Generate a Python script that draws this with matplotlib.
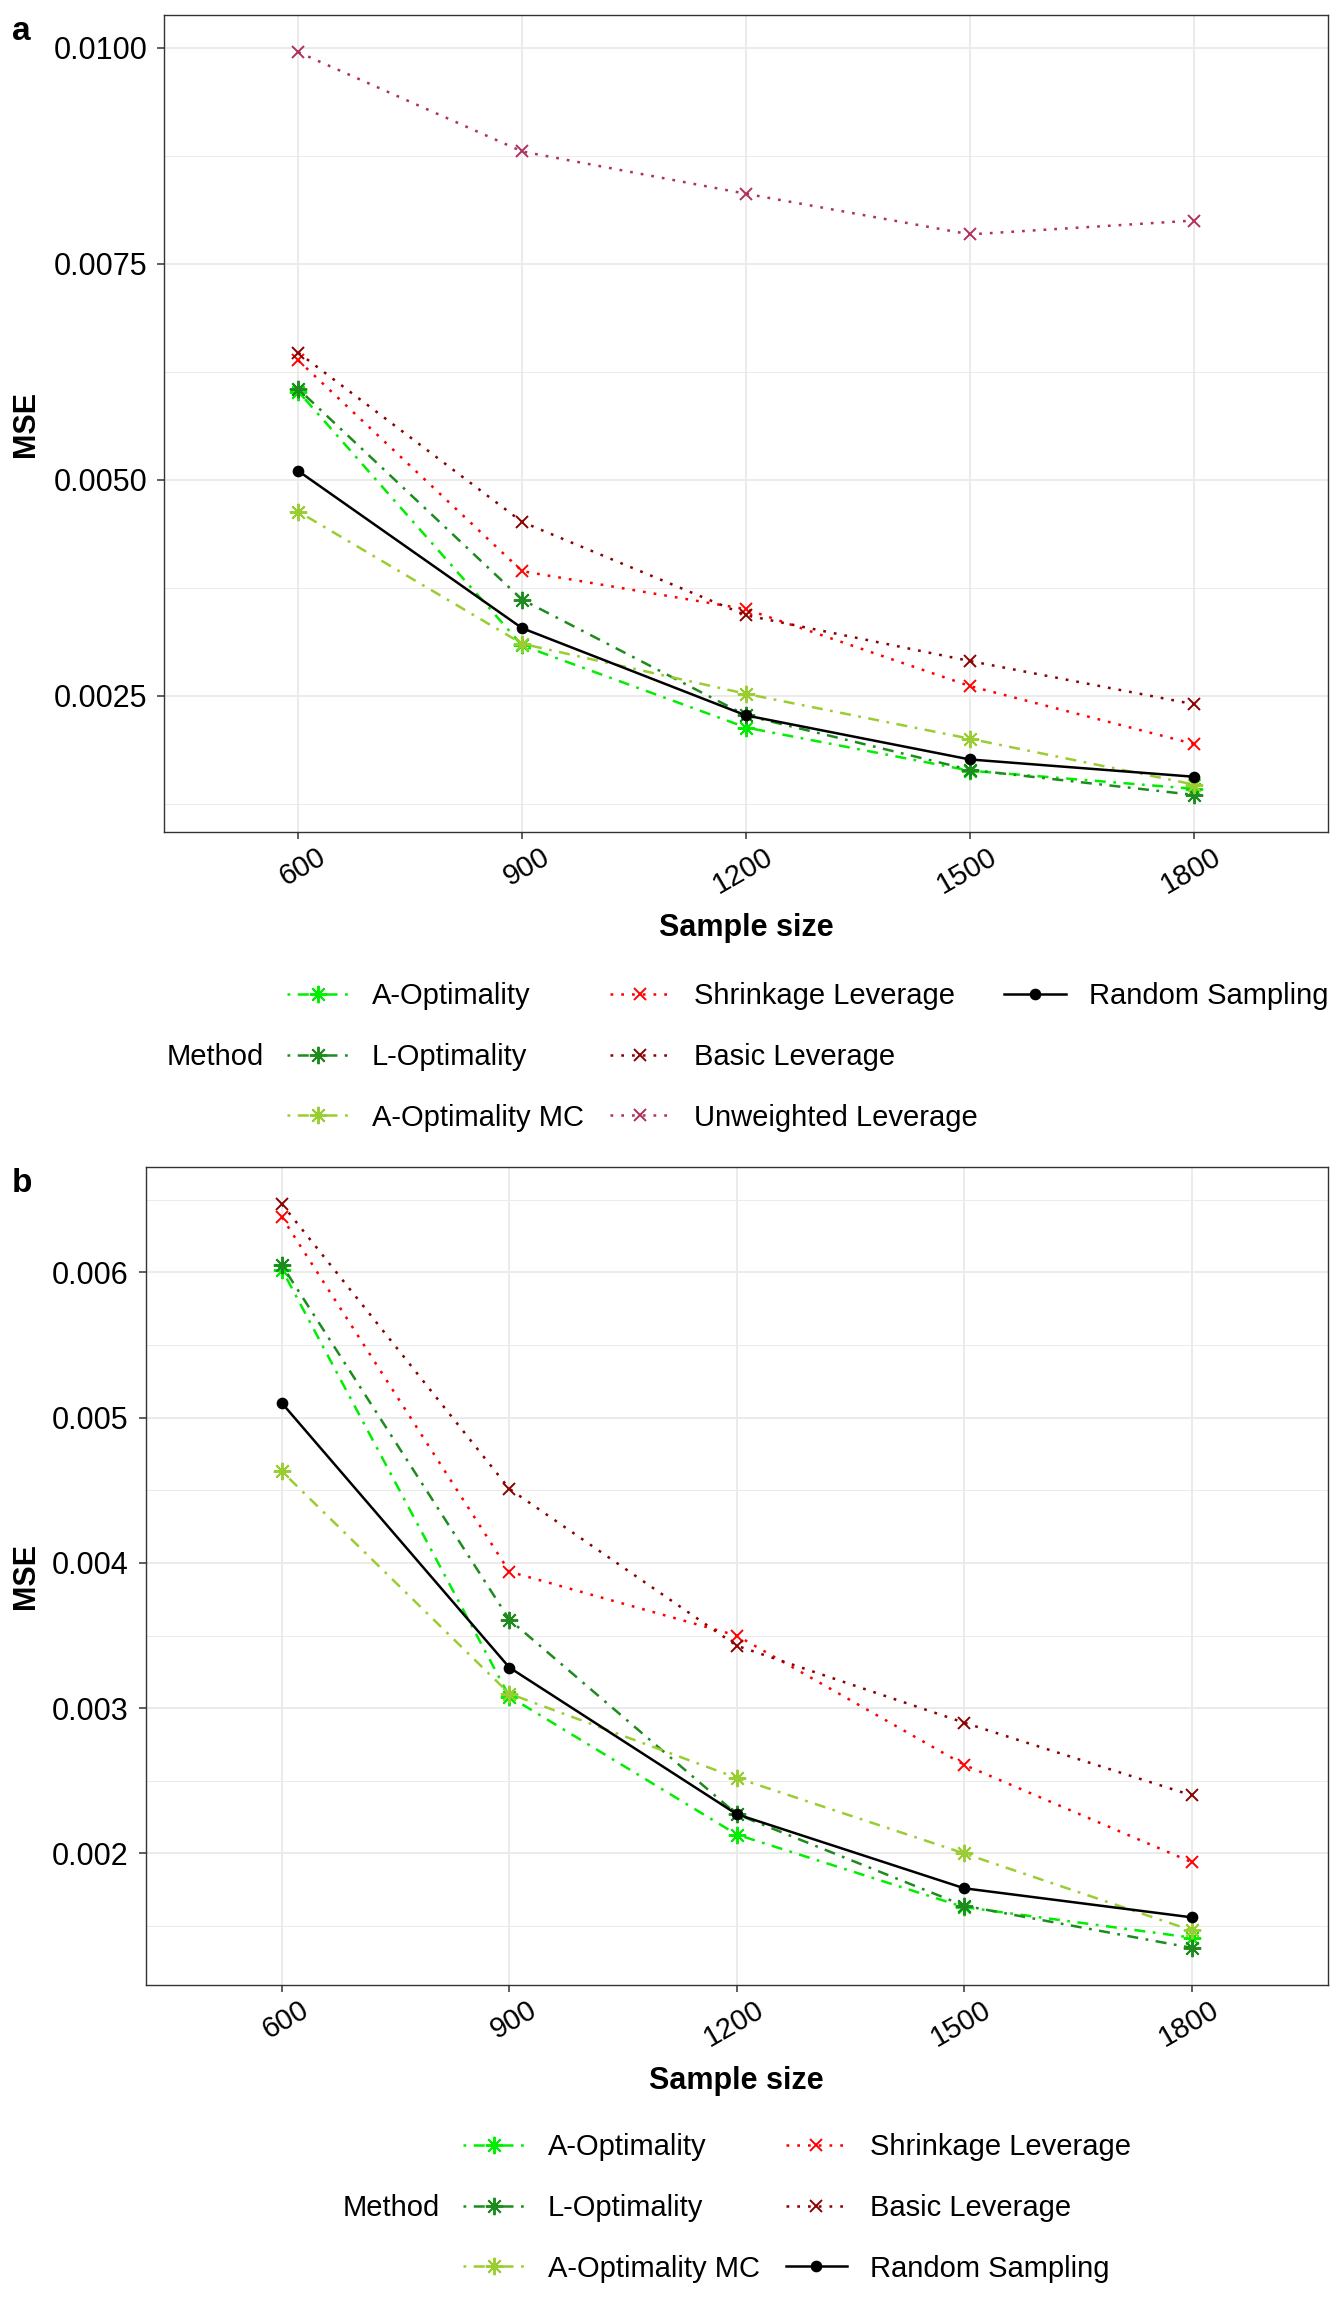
import matplotlib
matplotlib.use("Agg")
import matplotlib.pyplot as plt
from matplotlib.ticker import MultipleLocator, FormatStrFormatter
from matplotlib.lines import Line2D

plt.rcParams["font.family"] = ["Liberation Sans", "DejaVu Sans"]

# data (same numbers in both panels)
sample_sizes = ["600", "900", "1200", "1500", "1800"]
a_opt = [0.00602, 0.00308, 0.00213, 0.00163, 0.00142]
l_opt = [0.00605, 0.00361, 0.00227, 0.00164, 0.00135]
a_opt_mc = [0.00463, 0.00310, 0.00252, 0.00200, 0.00147]
shrinkage = [0.00638, 0.00394, 0.00350, 0.00261, 0.00194]
basic = [0.00647, 0.00451, 0.00343, 0.00290, 0.00240]
unweighted = [0.00995, 0.00880, 0.00831, 0.00784, 0.00800]
random_samp = [0.00510, 0.00328, 0.00227, 0.00176, 0.00156]

W, H = 1344, 2304
DPI = 100

dotted = (0, (1.1, 3.2))
dotdash = (0, (1.1, 3.0, 4.4, 3.0))
asterisk = (8, 2, 0)

# name, values, colour, linestyle, marker, marker size
methods = [
    ("A-Optimality", a_opt, "#00EE00", dotdash, asterisk, 12.5),
    ("L-Optimality", l_opt, "#1E8B1E", dotdash, asterisk, 12.5),
    ("A-Optimality MC", a_opt_mc, "#9ACD32", dotdash, asterisk, 12.5),
    ("Shrinkage Leverage", shrinkage, "#FF0000", dotted, "x", 8.5),
    ("Basic Leverage", basic, "#8B0000", dotted, "x", 8.5),
    ("Unweighted Leverage", unweighted, "#B03060", dotted, "x", 8.5),
    ("Random Sampling", random_samp, "#000000", "-", "o", 7),
]


def fx(px):
    return px / W


def fy(py):
    return 1 - py / H


def draw_panel(fig, rect, names, step, fmt, label, label_xy, title_y,
               mse_y, leg_xy, method_x, ncol):
    left, top, right, bottom = rect
    ax = fig.add_axes([fx(left), fy(bottom), fx(right - left), (bottom - top) / H])
    handles = []
    for name, vals, col, ls, mk, ms in methods:
        if name not in names:
            continue
        (ln,) = ax.plot(sample_sizes, vals, color=col, linestyle=ls, lw=1.8,
                        marker=mk, ms=ms, mew=1.4, mec=col, mfc=col,
                        dash_capstyle="butt", label=name)
        handles.append(ln)
    # pad the last legend column so it fills column by column like ggplot
    rows = 3
    while len(handles) % rows:
        handles.append(Line2D([], [], alpha=0, label=" "))
    ax.margins(x=0.15, y=0.05)
    ax.yaxis.set_major_locator(MultipleLocator(step))
    ax.yaxis.set_minor_locator(MultipleLocator(step / 2))
    ax.yaxis.set_major_formatter(FormatStrFormatter(fmt))
    ax.grid(True, which="major", color="#EBEBEB", lw=1.4)
    ax.grid(True, which="minor", axis="y", color="#EBEBEB", lw=0.7)
    ax.set_axisbelow(True)
    for s in ax.spines.values():
        s.set_color("#333333")
        s.set_linewidth(1.0)
    ax.tick_params(which="major", length=5, width=1.1, color="#333333",
                   labelsize=22, labelcolor="black")
    ax.tick_params(which="minor", length=0)
    ax.tick_params(axis="y", pad=7)
    ax.tick_params(axis="x", pad=1, labelsize=21)
    for t in ax.get_xticklabels():
        t.set_rotation(30)
        t.set_ha("right")
        t.set_va("top")
        t.set_rotation_mode("anchor")
        t.set_transform(t.get_transform() + matplotlib.transforms.ScaledTranslation(
            18 / DPI, -2 / DPI, fig.dpi_scale_trans))

    fig.text(fx(label_xy[0]), fy(label_xy[1]), label, fontsize=24,
             fontweight="bold", ha="left", va="baseline")
    fig.text(fx((left + right) / 2), fy(title_y), "Sample size", fontsize=22,
             fontweight="bold", ha="center", va="center")
    fig.text(fx(26), fy(mse_y), "MSE", fontsize=22, fontweight="bold",
             rotation=90, ha="center", va="center")

    fig.legend(handles=handles, loc="center left", ncol=ncol,
               bbox_to_anchor=(fx(leg_xy[0]), fy(leg_xy[1])),
               bbox_transform=fig.transFigure, frameon=False,
               fontsize=21, handlelength=2.1, handletextpad=0.8,
               columnspacing=0.9, labelspacing=1.12, borderpad=0,
               borderaxespad=0, numpoints=1)
    fig.text(fx(method_x), fy(leg_xy[1]), "Method", fontsize=21,
             ha="left", va="center")
    return ax


fig = plt.figure(figsize=(W / DPI, H / DPI), dpi=DPI)

all_names = [m[0] for m in methods]
draw_panel(fig, (164, 15, 1328, 832), all_names, 0.0025, "%.4f", "a",
           (12, 40), 928, 424, (287, 1057), 167, 3)

b_names = [n for n in all_names if n != "Unweighted Leverage"]
draw_panel(fig, (145.5, 1167, 1328, 1985), b_names, 0.001, "%.3f", "b",
           (12, 1192), 2081, 1576, (463, 2208), 343, 2)

fig.savefig("out.png", dpi=DPI, facecolor="white")
